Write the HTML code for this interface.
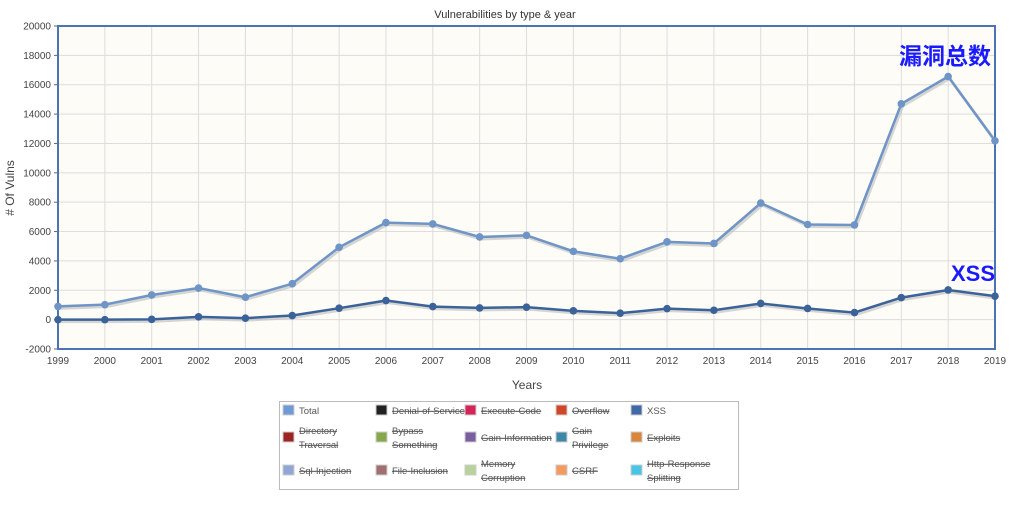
<!DOCTYPE html>
<html><head><meta charset="utf-8"><style>
body{margin:0;background:#fff;width:1011px;height:500px;overflow:hidden;font-family:"Liberation Sans",sans-serif}
</style></head><body>
<svg id="s" width="1011" height="500" xmlns="http://www.w3.org/2000/svg" font-family="Liberation Sans, sans-serif"></svg>
<script>
var s=document.getElementById('s'),h='';
var X0=58,X1=995,Y0=26,Y1=349;
function y(v){return Y0+(20000-v)*(Y1-Y0)/22000}
function x(i){return X0+i*(X1-X0)/20}
h+='<text x="505" y="18" text-anchor="middle" font-size="11" fill="#333">Vulnerabilities by type &amp; year</text>';
h+='<rect x="'+X0+'" y="'+Y0+'" width="'+(X1-X0)+'" height="'+(Y1-Y0)+'" fill="#fdfcf7"/>';
for(var v=-2000;v<=20000;v+=2000){var yy=y(v);h+='<line x1="'+X0+'" x2="'+X1+'" y1="'+yy+'" y2="'+yy+'" stroke="#dddddd"/>';h+='<line x1="'+(X0-4)+'" x2="'+X0+'" y1="'+yy+'" y2="'+yy+'" stroke="#666"/>';h+='<text x="'+(X0-7)+'" y="'+(yy+3.5)+'" text-anchor="end" font-size="10" fill="#444">'+v+'</text>';}
for(var i=0;i<=20;i++){var xx=x(i);h+='<line x1="'+xx+'" x2="'+xx+'" y1="'+Y0+'" y2="'+Y1+'" stroke="#dddddd"/>';h+='<text x="'+xx+'" y="'+(Y1+15)+'" text-anchor="middle" font-size="10" fill="#444">'+(1999+i)+'</text>';}
h+='<rect x="'+X0+'" y="'+Y0+'" width="'+(X1-X0)+'" height="'+(Y1-Y0)+'" fill="none" stroke="#4a74b4" stroke-width="2"/>';
h+='<text x="14" y="188" transform="rotate(-90 14 188)" text-anchor="middle" font-size="12" fill="#444"># Of Vulns</text>';
h+='<text x="527" y="389" text-anchor="middle" font-size="12" fill="#444">Years</text>';
var T=[900,1020,1680,2150,1530,2450,4930,6610,6520,5630,5740,4650,4150,5300,5190,7940,6480,6450,14700,16560,12180];
var S=[0,0,20,190,100,280,780,1300,890,800,850,600,440,750,640,1100,760,480,1500,2020,1600];
function line(d,c){var p=d.map(function(v,i){return x(i)+','+y(v)}).join(' ');
var ps=d.map(function(v,i){return (x(i)+1.5)+','+(y(v)+2)}).join(' ');
h+='<polyline points="'+ps+'" fill="none" stroke="#bbb" stroke-width="3" opacity=".6"/>';
h+='<polyline points="'+p+'" fill="none" stroke="'+c+'" stroke-width="2.5"/>';
d.forEach(function(v,i){h+='<circle cx="'+x(i)+'" cy="'+y(v)+'" r="3.8" fill="'+c+'"/>'});}
line(T,'#6f94c6');line(S,'#3c6399');
h+='<text x="991" y="64" text-anchor="end" font-size="23" font-weight="bold" fill="#1a1aff" font-family="Noto Sans CJK SC, sans-serif">漏洞总数</text>';
h+='<text x="995" y="281" text-anchor="end" font-size="22" font-weight="bold" fill="#1a1aff">XSS</text>';
h+='<rect x="279.5" y="401.5" width="459" height="88" fill="#fff" stroke="#bbb"/>';
var L=[[['Total','#6f9ad6',0],['Denial-of-Service','#222',1],['Execute-Code','#d6245a',1],['Overflow','#d2472a',1],['XSS','#3e68a6',0]],
[['Directory|Traversal','#9e2424',1],['Bypass|Something','#86a84a',1],['Gain-Information','#7a5ea0',1],['Gain|Privilege','#3e87a8',1],['Exploits','#d9853a',1]],
[['Sql-Injection','#92a6d6',1],['File-Inclusion','#a07070',1],['Memory|Corruption','#b9d29a',1],['CSRF','#f59a5e',1],['Http-Response|Splitting','#48c4e4',1]]];
var cx=[283,376,465,556,631],ry=[410,437,470];
L.forEach(function(r,ri){r.forEach(function(it,ci){var X=cx[ci],Y=ry[ri];
h+='<rect x="'+X+'" y="'+(Y-5)+'" width="11" height="10" fill="'+it[1]+'" stroke="#ccc"/>';
var parts=it[0].split('|');parts.forEach(function(t,k){var ty=Y+4+(parts.length>1?(k?7:-7):0);
h+='<text x="'+(X+16)+'" y="'+ty+'" font-size="9.5" fill="#555"'+(it[2]?' text-decoration="line-through"':'')+'>'+t+'</text>';});});});
s.innerHTML=h;
</script>
</body></html>
